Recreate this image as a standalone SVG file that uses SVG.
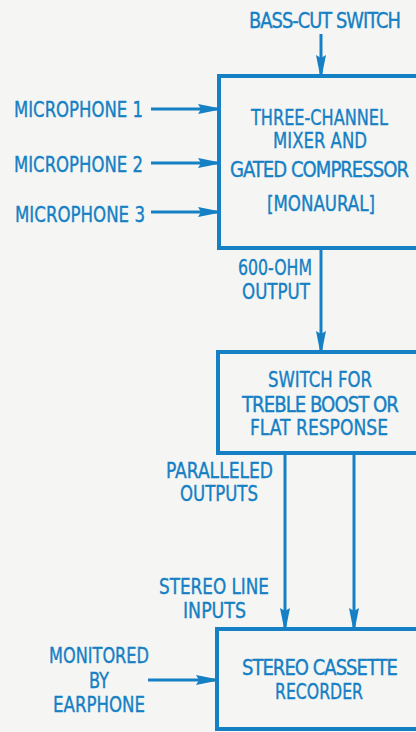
<svg xmlns="http://www.w3.org/2000/svg" width="416" height="732" viewBox="0 0 416 732">
<defs>
<marker id="ah" viewBox="0 0 20 10" refX="19" refY="5" markerWidth="20" markerHeight="10" markerUnits="userSpaceOnUse" orient="auto">
<path d="M0,0 L20,4 L20,6 L0,10 L3,5 z" fill="#1580c4"/>
</marker>
</defs>
<style>
text{font-family:"DejaVu Sans Condensed","Liberation Sans Narrow","Liberation Sans",Arial,sans-serif;font-size:20.5px;fill:#1580c4;stroke:#1580c4;stroke-width:0.35;font-weight:normal}
.tight{letter-spacing:-1px}
.box{fill:none;stroke:#1580c4;stroke-width:4}
.ln{stroke:#1580c4;stroke-width:3;fill:none;marker-end:url(#ah)}
</style>
<rect x="0" y="0" width="416" height="732" fill="#f5f6f4"/>
<g id="connectors">
<line class="ln" x1="321" y1="34" x2="321" y2="74"/>
<line class="ln" x1="151" y1="109" x2="217" y2="109"/>
<line class="ln" x1="151" y1="163" x2="217" y2="163"/>
<line class="ln" x1="151" y1="212" x2="217" y2="212"/>
<line class="ln" x1="321" y1="250" x2="321" y2="350"/>
<line class="ln" x1="285" y1="455" x2="285" y2="627"/>
<line class="ln" x1="354" y1="455" x2="354" y2="627"/>
<line class="ln" x1="148" y1="680" x2="215" y2="680"/>
</g>
<g id="labels">
<text class="tight" x="249" y="28" textLength="151" lengthAdjust="spacingAndGlyphs">BASS-CUT SWITCH</text>
<text x="14" y="117" textLength="129" lengthAdjust="spacingAndGlyphs">MICROPHONE 1</text>
<text x="14" y="172" textLength="129" lengthAdjust="spacingAndGlyphs">MICROPHONE 2</text>
<text x="15" y="222" textLength="130" lengthAdjust="spacingAndGlyphs">MICROPHONE 3</text>
<text x="238" y="275" textLength="74" lengthAdjust="spacingAndGlyphs">600-OHM</text>
<text x="242" y="299" textLength="68" lengthAdjust="spacingAndGlyphs">OUTPUT</text>
<text x="166" y="478" textLength="107" lengthAdjust="spacingAndGlyphs">PARALLELED</text>
<text x="180" y="501" textLength="78" lengthAdjust="spacingAndGlyphs">OUTPUTS</text>
<text x="159" y="594" textLength="110" lengthAdjust="spacingAndGlyphs">STEREO LINE</text>
<text x="183" y="618" textLength="63" lengthAdjust="spacingAndGlyphs">INPUTS</text>
<text x="49" y="663" textLength="100" lengthAdjust="spacingAndGlyphs">MONITORED</text>
<text x="89" y="688" textLength="20" lengthAdjust="spacingAndGlyphs">BY</text>
<text x="53" y="712" textLength="92" lengthAdjust="spacingAndGlyphs">EARPHONE</text>
</g>
<g id="mixer">
<rect class="box" x="219" y="76" width="220" height="172"/>
<text x="251" y="125" textLength="137" lengthAdjust="spacingAndGlyphs">THREE-CHANNEL</text>
<text x="273" y="148" textLength="94" lengthAdjust="spacingAndGlyphs">MIXER AND</text>
<text class="tight" x="230" y="177" textLength="178" lengthAdjust="spacingAndGlyphs">GATED COMPRESSOR</text>
<text x="267" y="211" textLength="108" lengthAdjust="spacingAndGlyphs">[MONAURAL]</text>
</g>
<g id="switch">
<rect class="box" x="218" y="352" width="220" height="101"/>
<text x="268" y="387" textLength="104" lengthAdjust="spacingAndGlyphs">SWITCH FOR</text>
<text class="tight" x="242" y="412" textLength="156" lengthAdjust="spacingAndGlyphs">TREBLE BOOST OR</text>
<text x="250" y="435" textLength="138" lengthAdjust="spacingAndGlyphs">FLAT RESPONSE</text>
</g>
<g id="recorder">
<rect class="box" x="217" y="629" width="220" height="100"/>
<text class="tight" x="242" y="675" textLength="155" lengthAdjust="spacingAndGlyphs">STEREO CASSETTE</text>
<text x="275" y="699" textLength="88" lengthAdjust="spacingAndGlyphs">RECORDER</text>
</g>
</svg>
